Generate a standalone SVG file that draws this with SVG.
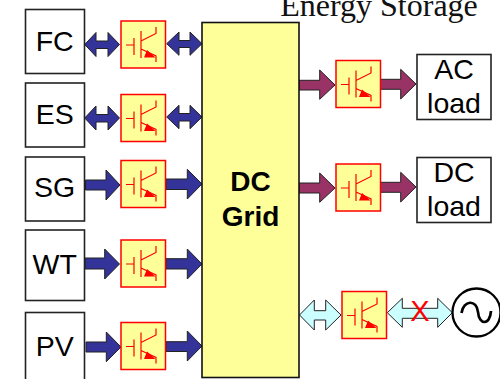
<svg xmlns="http://www.w3.org/2000/svg" xmlns:xlink="http://www.w3.org/1999/xlink" width="500" height="379" viewBox="0 0 500 379">
<style>
text{font-family:"Liberation Sans",Arial,sans-serif;font-size:28.5px;fill:#000;text-anchor:middle}
.box{fill:#fff;stroke:#222;stroke-width:1.6}
.grid{fill:#ffff99;stroke:#111;stroke-width:1.6}
.sw{fill:#ffff99;stroke:#ff0000;stroke-width:1.5}
.g{fill:none;stroke:#ff0000;stroke-width:1.2}
.blue{fill:#333399;stroke:#222;stroke-width:1}
.pur{fill:#993366;stroke:#222;stroke-width:1}
.cy{fill:#ccffff;stroke:#222;stroke-width:1}
</style>
<defs>
<g id="igbt">
<rect class="sw" x="0" y="0" width="44.5" height="47"/>
<path class="g" d="M5 24H13M13 17V34M20 10V37M20 20L35 12.5V6M20 28L35 35V41"/>
<path d="M26 29L34.5 36.5L23 36.5Z" fill="#ff0000"/>
</g>
</defs>
<text x="379" y="16" style="font-family:'Liberation Serif','Times New Roman',serif;font-size:32px;fill:#111">Energy Storage</text>
<g id="connectors">
<path class="blue" d="M84.7 44.5L96 32.5V41H108V32.5L119.5 44.5L108 56.5V48.5H96V56.5Z"/>
<path class="blue" d="M166.7 43.7L179 32V40.5H190V32L202 43.7L190 55.3V47.5H179V55.3Z"/>
<path class="blue" d="M84.7 118L96 106V114.5H108V106L119.5 118L108 130V122H96V130Z"/>
<path class="blue" d="M166.7 117L179 105.3V113.5H190V105.3L202 117L190 128.7V121H179V128.7Z"/>
<path class="blue" d="M85.5 180H106V170L120 185L106 200V190H85.5Z"/>
<path class="blue" d="M166 179H187.3V169.3L202 184L187.3 199V189.5H166Z"/>
<path class="blue" d="M85 258H104.7V249L119.5 264L104.7 279V269H85Z"/>
<path class="blue" d="M166 258.7H187.3V249L202 264L187.3 279V269H166Z"/>
<path class="blue" d="M86 342H106.3V332L121 347L106.3 361.7V352H86Z"/>
<path class="blue" d="M166 341.7H187.3V331L202 346L187.3 361V351.5H166Z"/>
<path class="pur" d="M299 80.3H319.7V70L335 85L319.7 99.3V90H299Z"/>
<path class="pur" d="M380.5 79.3H400.7V69.3L416 84L400.7 99V89.3H380.5Z"/>
<path class="pur" d="M299 183H319.7V173L335 188L319.7 202.3V193H299Z"/>
<path class="pur" d="M380.5 182.3H400.7V172.3L416 187L400.7 202V192.3H380.5Z"/>
<path class="cy" d="M299.5 315L314.3 300V310.7H325.7V300L341 315L325.7 330V320H314.3V330Z"/>
<path class="cy" d="M387.3 312.7L402.3 298.3V308.3H437.7V298.3L452.3 312.7L437.7 327.3V318.3H402.3V327.3Z"/>
</g>
<g id="FC"><rect class="box" x="25.5" y="9.5" width="59" height="64"/><text x="54.7" y="50.5">FC</text></g>
<g id="ES"><rect class="box" x="25.5" y="83" width="59" height="64"/><text x="54.7" y="124">ES</text></g>
<g id="SG"><rect class="box" x="25.5" y="157" width="59" height="64"/><text x="54.7" y="197">SG</text></g>
<g id="WT"><rect class="box" x="25.5" y="230" width="59" height="70.5"/><text x="54.7" y="273.5">WT</text></g>
<g id="PV"><rect class="box" x="25.5" y="312.5" width="59" height="80"/><text x="54.7" y="355.5">PV</text></g>
<g id="sw1"><use href="#igbt" x="121" y="21"/></g>
<g id="sw2"><use href="#igbt" x="121" y="94.5"/></g>
<g id="sw3"><use href="#igbt" x="121" y="160.5"/></g>
<g id="sw4"><use href="#igbt" x="121" y="240"/></g>
<g id="sw5"><use href="#igbt" x="121" y="322.5"/></g>
<g id="sw6"><use href="#igbt" x="336" y="60.5"/></g>
<g id="sw7"><use href="#igbt" x="336" y="164"/></g>
<g id="sw8"><use href="#igbt" x="342" y="291.5"/></g>
<g id="grid"><rect class="grid" x="202" y="22.5" width="97" height="355"/><text x="250.5" y="191" font-weight="bold" style="font-size:28px">DC</text><text x="250.5" y="226" font-weight="bold" style="font-size:28px">Grid</text></g>
<g id="acload"><rect class="box" x="417" y="54.5" width="74" height="65"/><text x="454" y="78.5">AC</text><text x="454" y="112.5">load</text></g>
<g id="dcload"><rect class="box" x="417" y="157.5" width="74" height="65"/><text x="454" y="181.5">DC</text><text x="454" y="215.5">load</text></g>
<g id="source"><circle cx="476.5" cy="312.5" r="24" fill="#fff" stroke="#000" stroke-width="2.3"/><path d="M461.5 313C463 300 477 299 478 312S490 326 491 311" fill="none" stroke="#000" stroke-width="2.7"/></g>
<text x="420" y="321" style="fill:#ff0000;font-size:29px">X</text>
</svg>
